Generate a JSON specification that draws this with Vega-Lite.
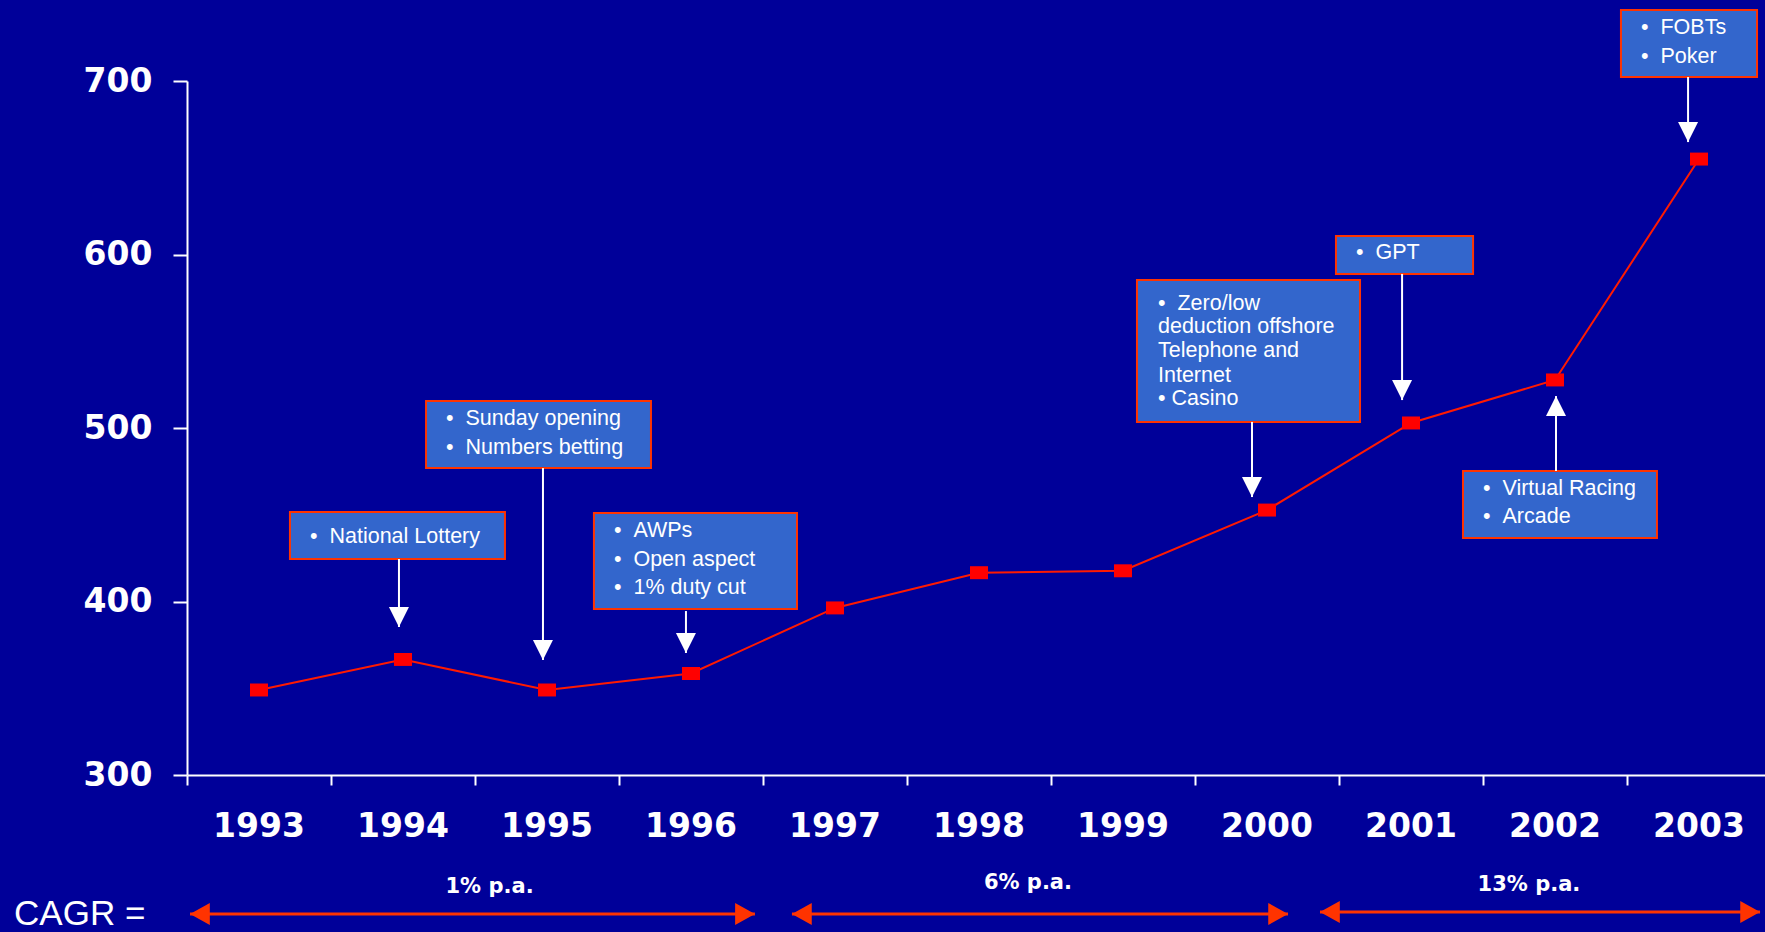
{
  "$schema": "https://vega.github.io/schema/vega-lite/v6.json",
  "width": 1578,
  "height": 694,
  "autosize": {"type": "none"},
  "padding": {"left": 187, "top": 81, "right": 0, "bottom": 157},
  "background": "#000099",
  "config": {"view": {"stroke": null}, "font": "Liberation Sans"},
  "datasets": {
    "main": [
      {"year": "1993", "value": 349},
      {"year": "1994", "value": 366.6},
      {"year": "1995", "value": 349},
      {"year": "1996", "value": 358.5},
      {"year": "1997", "value": 396.3},
      {"year": "1998", "value": 416.6},
      {"year": "1999", "value": 417.7},
      {"year": "2000", "value": 452.7},
      {"year": "2001", "value": 502.9},
      {"year": "2002", "value": 527.7},
      {"year": "2003", "value": 655}
    ],
    "boxes": [
      {"id": "NL", "x0": 1993.215, "x1": 1994.708, "y0": 451.6, "y1": 424.5},
      {"id": "Sun", "x0": 1994.16, "x1": 1995.722, "y0": 515.6, "y1": 476.9},
      {"id": "AWP", "x0": 1995.326, "x1": 1996.736, "y0": 451.0, "y1": 395.7},
      {"id": "Zero", "x0": 1999.097, "x1": 2000.646, "y0": 585.3, "y1": 503.5},
      {"id": "GPT", "x0": 2000.479, "x1": 2001.431, "y0": 610.7, "y1": 588.8},
      {"id": "VR", "x0": 2001.361, "x1": 2002.708, "y0": 475.2, "y1": 436.6},
      {"id": "FOBT", "x0": 2002.458, "x1": 2003.403, "y0": 740.9, "y1": 702.3}
    ],
    "notes": [
      {"x": 1993.354, "y": 433.7, "t": "•\u00a0\u00a0National Lottery"},
      {"x": 1994.299, "y": 501.7, "t": "•\u00a0\u00a0Sunday opening"},
      {"x": 1994.299, "y": 485.0, "t": "•\u00a0\u00a0Numbers betting"},
      {"x": 1995.465, "y": 437.2, "t": "•\u00a0\u00a0AWPs"},
      {"x": 1995.465, "y": 420.5, "t": "•\u00a0\u00a0Open aspect"},
      {"x": 1995.465, "y": 404.3, "t": "•\u00a0\u00a01% duty cut"},
      {"x": 1999.243, "y": 568.0, "t": "•\u00a0\u00a0Zero/low"},
      {"x": 1999.243, "y": 554.8, "t": "deduction offshore"},
      {"x": 1999.243, "y": 540.9, "t": "Telephone and"},
      {"x": 1999.243, "y": 526.5, "t": "Internet"},
      {"x": 1999.243, "y": 513.3, "t": "•\u00a0Casino"},
      {"x": 2000.618, "y": 597.4, "t": "•\u00a0\u00a0GPT"},
      {"x": 2001.5, "y": 461.4, "t": "•\u00a0\u00a0Virtual Racing"},
      {"x": 2001.5, "y": 445.2, "t": "•\u00a0\u00a0Arcade"},
      {"x": 2002.597, "y": 727.1, "t": "•\u00a0\u00a0FOBTs"},
      {"x": 2002.597, "y": 710.4, "t": "•\u00a0\u00a0Poker"}
    ],
    "pointers": [
      {"x": 1993.972, "from": 424.5, "tip": 385.3, "dir": "down"},
      {"x": 1994.972, "from": 476.9, "tip": 366.3, "dir": "down"},
      {"x": 1995.965, "from": 394.5, "tip": 370.3, "dir": "down"},
      {"x": 1999.896, "from": 503.5, "tip": 460.2, "dir": "down"},
      {"x": 2000.938, "from": 588.8, "tip": 516.1, "dir": "down"},
      {"x": 2002.007, "from": 475.2, "tip": 518.4, "dir": "up"},
      {"x": 2002.924, "from": 702.3, "tip": 664.8, "dir": "down"}
    ],
    "cagr": [
      {"label": "1% p.a.", "x0": 1992.521, "x1": 1996.444, "y": 219.9, "lx": 1994.601, "ly": 232.0},
      {"label": "6% p.a.", "x0": 1996.701, "x1": 2000.146, "y": 219.9, "lx": 1998.34, "ly": 234.3},
      {"label": "13% p.a.", "x0": 2000.368, "x1": 2003.424, "y": 221.0, "lx": 2001.819, "ly": 233.1}
    ],
    "cagrTitle": [
      {"x": 1991.299, "y": 213.8, "t": "CAGR ="}
    ]
  },
  "layer": [
    {
      "data": {"name": "main"},
      "encoding": {
        "x": {
          "field": "year", "type": "ordinal", "sort": null,
          "scale": {"type": "band", "range": [0, 1584], "paddingInner": 0, "paddingOuter": 0},
          "axis": {
            "title": null, "labelAngle": 0, "bandPosition": 0, "grid": false,
            "tickSize": 10, "tickWidth": 2, "tickColor": "white",
            "domainColor": "white", "domainWidth": 2,
            "labelColor": "white", "labelFont": "DejaVu Sans", "labelFontWeight": "bold",
            "labelFontSize": 33, "labelPadding": 25, "labelOverlap": false, "labelFlush": false, "labelBound": false
          }
        },
        "y": {
          "field": "value", "type": "quantitative",
          "scale": {"domain": [300, 700], "nice": false, "zero": false},
          "axis": {
            "title": null, "values": [300, 400, 500, 600, 700], "grid": false,
            "tickSize": 14, "tickWidth": 2, "tickColor": "white",
            "domainColor": "white", "domainWidth": 2,
            "labelColor": "white", "labelFont": "DejaVu Sans", "labelFontWeight": "bold",
            "labelFontSize": 33, "labelPadding": 21, "labelOverlap": false, "labelFlush": false, "labelBound": false
          }
        }
      },
      "layer": [
        {"mark": {"type": "line", "color": "#FF1A00", "strokeWidth": 2}},
        {"mark": {"type": "point", "shape": "M-1,-0.72H1V0.72H-1Z", "size": 324, "filled": true, "color": "#FF0000", "opacity": 1}}
      ]
    },
    {
      "layer": [
        {
          "data": {"name": "boxes"},
          "mark": {"type": "rect", "fill": "#3366CC", "stroke": "#FF3300", "strokeWidth": 2},
          "encoding": {
            "x": {"field": "x0", "type": "quantitative", "scale": {"domain": [1992.5, 2003.5], "range": [0, 1584], "nice": false, "zero": false}, "axis": null},
            "x2": {"field": "x1"},
            "y": {"field": "y0", "type": "quantitative", "scale": {"domain": [300, 700], "nice": false, "zero": false}, "axis": null},
            "y2": {"field": "y1"}
          }
        },
        {
          "data": {"name": "notes"},
          "mark": {"type": "text", "align": "left", "baseline": "alphabetic", "font": "Liberation Sans", "fontSize": 21.5, "fill": "white"},
          "encoding": {
            "x": {"field": "x", "type": "quantitative", "scale": {"domain": [1992.5, 2003.5], "range": [0, 1584], "nice": false, "zero": false}, "axis": null},
            "y": {"field": "y", "type": "quantitative", "scale": {"domain": [300, 700], "nice": false, "zero": false}, "axis": null},
            "text": {"field": "t"}
          }
        },
        {
          "data": {"name": "pointers"},
          "mark": {"type": "rule", "color": "white", "strokeWidth": 2},
          "encoding": {
            "x": {"field": "x", "type": "quantitative", "scale": {"domain": [1992.5, 2003.5], "range": [0, 1584], "nice": false, "zero": false}, "axis": null},
            "y": {"field": "from", "type": "quantitative", "scale": {"domain": [300, 700], "nice": false, "zero": false}, "axis": null},
            "y2": {"field": "tip"}
          }
        },
        {
          "data": {"name": "pointers"},
          "mark": {"type": "point", "filled": true, "color": "white", "opacity": 1, "size": 400},
          "encoding": {
            "x": {"field": "x", "type": "quantitative", "scale": {"domain": [1992.5, 2003.5], "range": [0, 1584], "nice": false, "zero": false}, "axis": null},
            "y": {"field": "tip", "type": "quantitative", "scale": {"domain": [300, 700], "nice": false, "zero": false}, "axis": null},
            "shape": {"field": "dir", "type": "nominal", "scale": {"domain": ["down", "up"], "range": ["M-1,-2L1,-2L0,0Z", "M-1,2L1,2L0,0Z"]}, "legend": null}
          }
        },
        {
          "data": {"name": "cagr"},
          "mark": {"type": "rule", "color": "#FF3300", "strokeWidth": 3},
          "encoding": {
            "x": {"field": "x0", "type": "quantitative", "scale": {"domain": [1992.5, 2003.5], "range": [0, 1584], "nice": false, "zero": false}, "axis": null},
            "x2": {"field": "x1"},
            "y": {"field": "y", "type": "quantitative", "scale": {"domain": [300, 700], "nice": false, "zero": false}, "axis": null}
          }
        },
        {
          "data": {"name": "cagr"},
          "mark": {"type": "point", "filled": true, "color": "#FF3300", "opacity": 1, "size": 484, "shape": "M1.8,-1L0,0L1.8,1Z"},
          "encoding": {
            "x": {"field": "x0", "type": "quantitative", "scale": {"domain": [1992.5, 2003.5], "range": [0, 1584], "nice": false, "zero": false}, "axis": null},
            "y": {"field": "y", "type": "quantitative", "scale": {"domain": [300, 700], "nice": false, "zero": false}, "axis": null}
          }
        },
        {
          "data": {"name": "cagr"},
          "mark": {"type": "point", "filled": true, "color": "#FF3300", "opacity": 1, "size": 484, "shape": "M-1.8,-1L0,0L-1.8,1Z"},
          "encoding": {
            "x": {"field": "x1", "type": "quantitative", "scale": {"domain": [1992.5, 2003.5], "range": [0, 1584], "nice": false, "zero": false}, "axis": null},
            "y": {"field": "y", "type": "quantitative", "scale": {"domain": [300, 700], "nice": false, "zero": false}, "axis": null}
          }
        },
        {
          "data": {"name": "cagr"},
          "mark": {"type": "text", "align": "center", "baseline": "alphabetic", "font": "DejaVu Sans", "fontWeight": "bold", "fontSize": 21, "fill": "white"},
          "encoding": {
            "x": {"field": "lx", "type": "quantitative", "scale": {"domain": [1992.5, 2003.5], "range": [0, 1584], "nice": false, "zero": false}, "axis": null},
            "y": {"field": "ly", "type": "quantitative", "scale": {"domain": [300, 700], "nice": false, "zero": false}, "axis": null},
            "text": {"field": "label"}
          }
        },
        {
          "data": {"name": "cagrTitle"},
          "mark": {"type": "text", "align": "left", "baseline": "alphabetic", "font": "Liberation Sans", "fontSize": 35, "fill": "white"},
          "encoding": {
            "x": {"field": "x", "type": "quantitative", "scale": {"domain": [1992.5, 2003.5], "range": [0, 1584], "nice": false, "zero": false}, "axis": null},
            "y": {"field": "y", "type": "quantitative", "scale": {"domain": [300, 700], "nice": false, "zero": false}, "axis": null},
            "text": {"field": "t"}
          }
        }
      ]
    }
  ],
  "resolve": {"scale": {"x": "independent", "y": "independent"}}
}
